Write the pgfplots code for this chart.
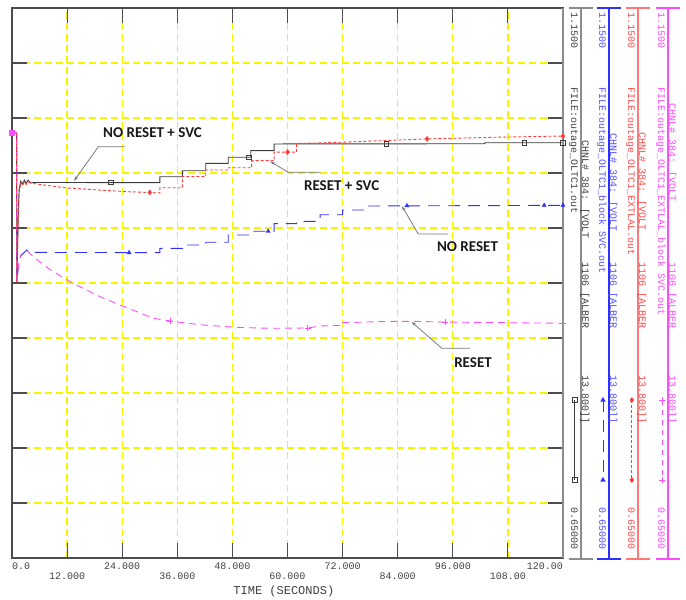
\documentclass[border=0pt]{standalone}
\usepackage{pgfplots}
\usepackage{pgfplotstable}
\pgfplotsset{compat=1.18}
\usetikzlibrary{arrows.meta}
\usepackage{fontspec}
\setmainfont{Liberation Mono}
\newfontfamily\annfont{Carlito}

\definecolor{axgray}{HTML}{4D4D4D}
\definecolor{gridyel}{RGB}{245,245,0}
\definecolor{sgray}{HTML}{3C3C3C}
\definecolor{sred}{HTML}{FF3B3B}
\definecolor{sblue}{HTML}{2F2FFF}
\definecolor{smag}{HTML}{FF4CFF}
\definecolor{lgray}{HTML}{8C8C8C}
\definecolor{tgray}{HTML}{404040}
\definecolor{tblue}{HTML}{5050FF}
\definecolor{tred}{HTML}{FF4A4A}
\definecolor{tmag}{HTML}{FF4CFF}
\definecolor{annc}{HTML}{7A7A7A}

% Bus 1106 voltage (pu) versus time (s)
\pgfplotstableread{
t v
0 1.0364
1.0 1.0364
1.05 0.900
1.35 0.960
1.55 0.985
1.9 0.9925
2.3 0.9900
2.7 0.9935
3.1 0.9905
3.5 0.9935
4.0 0.9910
5.0 0.9914
32.2 0.9912
32.2 0.9966
37.1 0.9966
37.1 1.0020
42.2 1.0020
42.2 1.0088
47.1 1.0088
47.1 1.0143
52.0 1.0143
52.0 1.0203
57.1 1.0203
57.1 1.0264
103.0 1.0266
103.0 1.0275
120 1.0275
}\noresetsvc
\pgfplotstableread{
t v
21.5 0.9912
51.6 1.0143
81.6 1.0265
111.6 1.0275
120 1.0275
}\noresetsvcmk

\pgfplotstableread{
t v
0 1.0364
1.0 1.0364
1.05 0.900
1.35 0.955
1.55 0.980
1.9 0.9915
2.3 0.9885
2.7 0.9920
3.1 0.9895
3.5 0.9915
4.6 0.9905
8 0.9885
12 0.9864
19 0.9845
25 0.9830
30 0.9823
32.2 0.9818
32.2 0.9866
37.1 0.9866
37.1 0.9968
42.2 0.9968
42.2 1.0027
47.1 1.0027
47.1 1.0048
52.2 1.0048
52.2 1.0112
57.1 1.0112
57.1 1.0190
62.0 1.0190
62.0 1.0268
72 1.0280
90.4 1.0310
105 1.0325
120 1.0336
}\resetsvc
\pgfplotstableread{
t v
30 0.9823
60 1.0190
90.4 1.0310
120 1.0336
}\resetsvcmk

\pgfplotstableread{
t v
0 1.0364
1.0 1.0364
1.05 0.900
1.4 0.9150
1.9 0.9245
2.5 0.9270
3.2 0.9300
3.9 0.9270
5 0.9278
32.2 0.9276
32.2 0.9315
37.1 0.9315
37.1 0.9345
42.2 0.9345
42.2 0.9370
47.1 0.9370
47.1 0.9436
52.2 0.9436
52.2 0.9470
57.1 0.9470
57.1 0.9540
62.0 0.9540
62.0 0.9560
67.1 0.9560
67.1 0.9620
72.0 0.9620
72.0 0.9664
77.0 0.9664
77.0 0.9700
120 0.9706
}\noreset
\pgfplotstableread{
t v
25.5 0.9276
55.8 0.9470
86.0 0.9702
115.9 0.9706
120 0.9706
}\noresetmk

\pgfplotstableread{
t v
0 1.0364
1.0 1.0364
1.05 0.900
1.3 0.912
1.6 0.921
2.0 0.926
2.6 0.928
3.2 0.930
4.6 0.9239
8 0.913
12 0.9027
16 0.894
19.2 0.8875
23.5 0.8800
27.2 0.8739
30.8 0.8679
34.4 0.8655
38 0.8635
41.7 0.8618
48.9 0.8597
56.2 0.8588
64.4 0.8591
67.1 0.8609
71.8 0.8615
71.8 0.8639
81.6 0.8650
86.7 0.8652
94.4 0.8645
105 0.8640
120 0.8634
}\reset
\pgfplotstableread{
t v
34.4 0.8655
64.4 0.8591
94.4 0.8645
120 0.8634
}\resetmk

\tikzset{
  vtxt/.style={rotate=-90, anchor=west, inner sep=0pt,
    font=\fontsize{10}{12}\selectfont, text height=7pt, text depth=2pt},
  annline/.style={annc, line width=0.8pt},
  anntxt/.style={font=\annfont\fontsize{15}{18}\selectfont\bfseries, text=black!90},
  xtl/.style={font=\fontsize{10}{12}\selectfont, text=tgray, inner sep=0pt}
}

% one channel column: axis line x, line colour, text colour, file name, start of channel text
\newcommand{\chcol}[5]{%
  \draw[#2, line width=1.1pt] (#1,8) -- (#1,559);
  \draw[#2, line width=1.1pt] (#1-12,8) -- (#1+12,8);
  \draw[#2, line width=1.1pt] (#1-12,559) -- (#1+12,559);
  \node[vtxt, text=#3] at (#1-7.5,12) {1.1500};
  \node[vtxt, text=#3] at (#1-7.5,87) {#4};
  \node[vtxt, text=#3] at (#1-7.5,507) {0.65000};
  \node[vtxt, text=#3] at (#1+3.5,#5) {CHNL\# 384: [VOLT};
  \node[vtxt, text=#3] at (#1+3.5,262) {1106 [ALBER};
  \node[vtxt, text=#3] at (#1+3.5,375) {13.800]]};
}

\begin{document}
\begin{tikzpicture}
\useasboundingbox (-12pt,-42pt) rectangle (674pt,558pt);
\begin{axis}[
  at={(0pt,0pt)}, anchor=south west,
  scale only axis, width=551pt, height=550pt,
  xmin=0, xmax=120, ymin=0.65, ymax=1.15,
  xtick={0,12,24,36,48,60,72,84,96,108,120},
  ytick={0.65,0.70,0.75,0.80,0.85,0.90,0.95,1.00,1.05,1.10,1.15},
  xticklabels={}, yticklabels={},
  tick align=inside, major tick length=15pt,
  tick style={color=axgray, line width=1.1pt},
  axis line style={color=axgray, line width=1.1pt},
  grid=major,
  major grid style={color=gridyel, line width=1.3pt, dash pattern=on 7pt off 4pt},
  clip=false,
]
% curves
\addplot[sgray, line width=0.9pt] table[x=t,y=v] {\noresetsvc};
\addplot[sgray, only marks, mark=square, mark size=2.2pt, mark options={line width=0.8pt, fill=white}] table[x=t,y=v] {\noresetsvcmk};

\addplot[sblue, line width=0.9pt, dash pattern=on 12pt off 8pt] table[x=t,y=v] {\noreset};
\addplot[sblue, only marks, mark=triangle*, mark size=2.4pt] table[x=t,y=v] {\noresetmk};

\addplot[smag, line width=0.9pt, dash pattern=on 7pt off 5pt] table[x=t,y=v] {\reset};
\addplot[smag, only marks, mark=+, mark size=3pt, mark options={line width=0.8pt}] table[x=t,y=v] {\resetmk};

\addplot[sred, line width=0.9pt, dash pattern=on 3pt off 2pt] table[x=t,y=v] {\resetsvc};
\addplot[sred, only marks, mark=diamond*, mark size=2.6pt] table[x=t,y=v] {\resetsvcmk};

% start point
\addplot[smag, only marks, mark=square*, mark size=2.4pt] coordinates {(0,1.0364)};

% channel key samples
\addplot[sgray, line width=0.9pt, mark=square, mark size=2.2pt, mark options={fill=white}] coordinates {(122.6,0.7936) (122.6,0.7209)};
\addplot[sblue, line width=0.9pt, dash pattern=on 12pt off 8pt, mark=triangle*, mark size=2.2pt, mark options={solid}] coordinates {(128.7,0.7936) (128.7,0.7209)};
\addplot[sred, line width=0.9pt, dash pattern=on 3pt off 2pt, mark=diamond*, mark size=2.2pt, mark options={solid}] coordinates {(135.0,0.7936) (135.0,0.7209)};
\addplot[smag, line width=0.9pt, dash pattern=on 5pt off 5pt, mark=+, mark size=3pt, mark options={solid}] coordinates {(141.55,0.7936) (141.55,0.7209)};

% right frame edge
\draw[color=lgray, line width=2.4pt] (axis cs:120,0.65) -- (axis cs:120,1.15);

% annotations
\node[anntxt] at (axis cs:30.6,1.0364) {NO RESET + SVC};
\draw[annline, -{Stealth[length=5pt,width=3pt]}] (axis cs:24.6,1.0239) -- (axis cs:18.8,1.0239) -- (axis cs:13.5,0.9927);
\node[anntxt] at (axis cs:71.8,0.9882) {RESET + SVC};
\draw[annline, -{Stealth[length=5pt,width=3pt]}] (axis cs:67.2,1.0006) -- (axis cs:60.2,1.0006) -- (axis cs:56.2,1.0105);
\node[anntxt] at (axis cs:99.2,0.9330) {NO RESET};
\draw[annline, -{Stealth[length=5pt,width=3pt]}] (axis cs:95.0,0.9445) -- (axis cs:88.5,0.9445) -- (axis cs:84.9,0.9700);
\node[anntxt] at (axis cs:100.4,0.8273) {RESET};
\draw[annline, -{Stealth[length=5pt,width=3pt]}] (axis cs:99.7,0.8406) -- (axis cs:93.6,0.8406) -- (axis cs:87.0,0.8648);

% time axis labels in two staggered rows
\node[xtl, anchor=west] at (axis cs:0,0.6427) {0.0};
\node[xtl] at (axis cs:24,0.6427) {24.000};
\node[xtl] at (axis cs:48,0.6427) {48.000};
\node[xtl] at (axis cs:72,0.6427) {72.000};
\node[xtl] at (axis cs:96,0.6427) {96.000};
\node[xtl, anchor=east] at (axis cs:120,0.6427) {120.00};
\node[xtl] at (axis cs:12,0.6336) {12.000};
\node[xtl] at (axis cs:36,0.6336) {36.000};
\node[xtl] at (axis cs:60,0.6336) {60.000};
\node[xtl] at (axis cs:84,0.6336) {84.000};
\node[xtl] at (axis cs:108,0.6336) {108.00};
\node[font=\fontsize{12}{14}\selectfont, text=tgray] at (axis cs:59.2,0.620) {TIME (SECONDS)};
\end{axis}

% channel columns on the right
\begin{scope}[shift={(-12pt,558pt)}, x=1pt, y=-1pt]
\chcol{581}{lgray}{tgray}{FILE:outage\_OLTC1.out}{140}
\chcol{609}{sblue}{tblue}{FILE:outage\_OLTC1\_block SVC.out}{133}
\chcol{638}{tred!75}{tred}{FILE:outage\_OLTC1\_EXTLAL.out}{132}
\chcol{668}{smag}{tmag}{FILE:outage\_OLTC1\_EXTLAL\_block SVC.out}{103}
\end{scope}
\end{tikzpicture}
\end{document}
